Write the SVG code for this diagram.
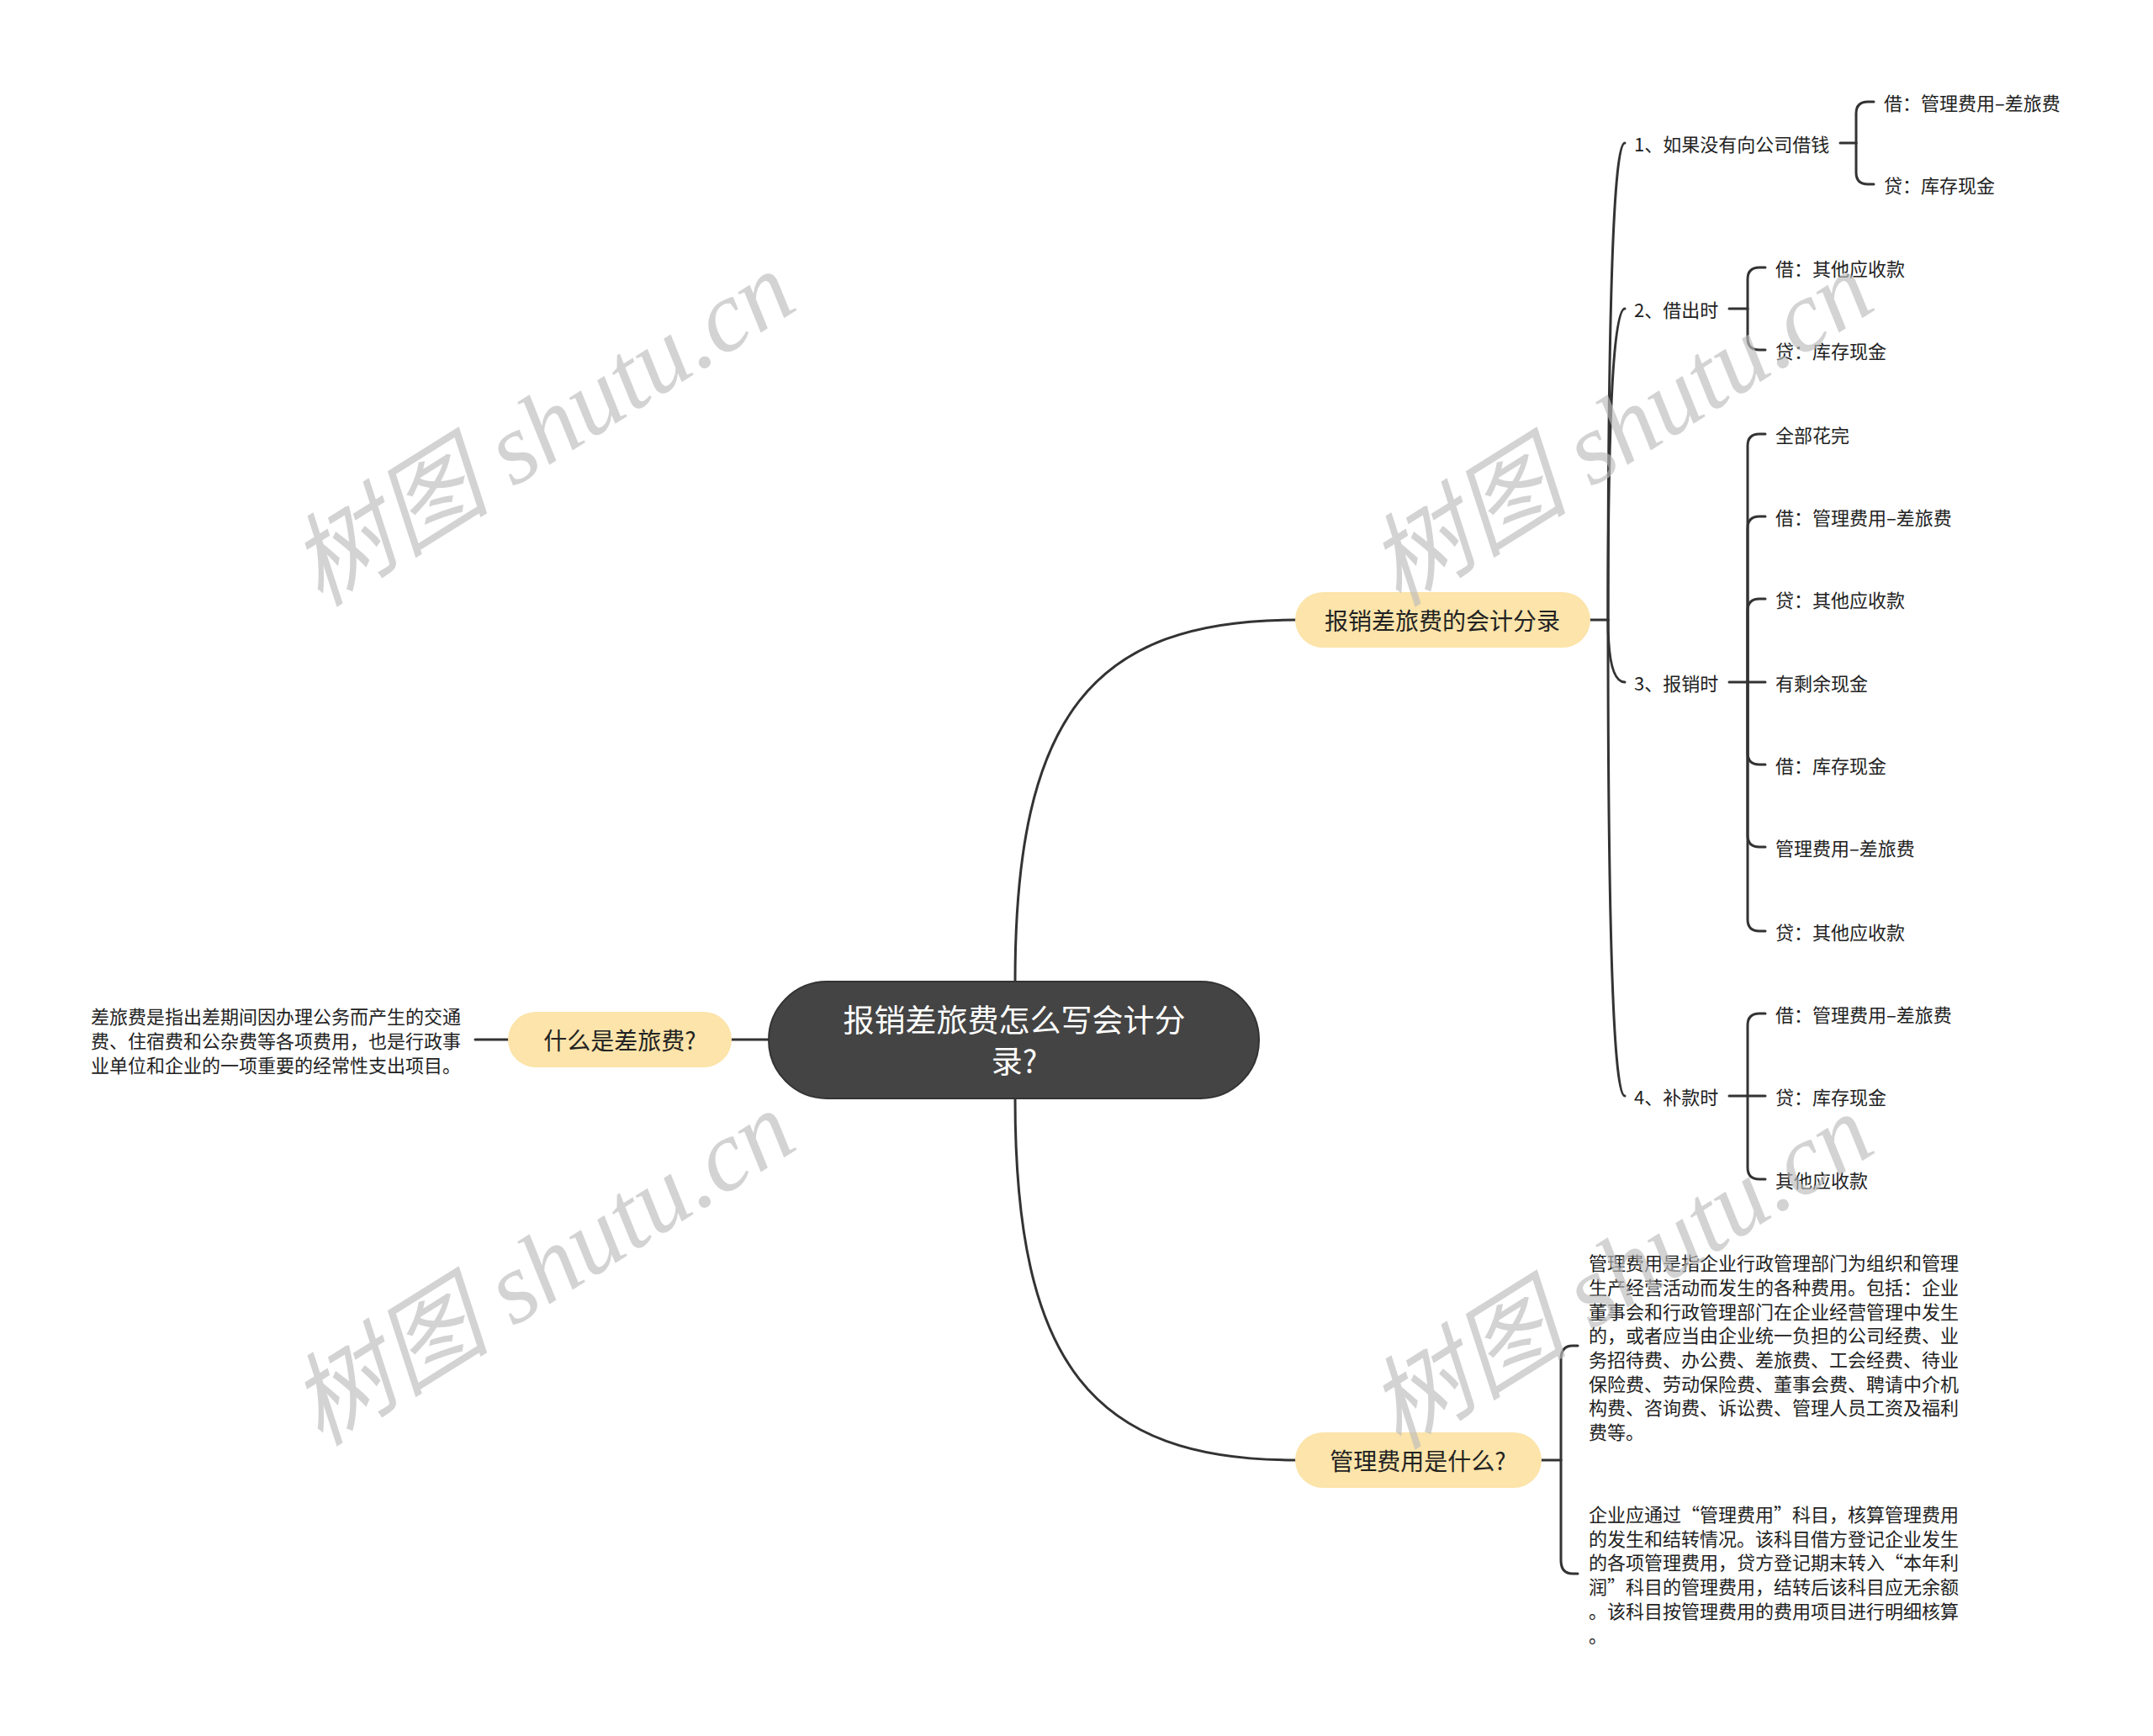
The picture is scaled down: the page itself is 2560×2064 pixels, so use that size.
<svg xmlns="http://www.w3.org/2000/svg" width="2560" height="2064" viewBox="0 0 2560 2064">
<style>
.ln{fill:none;stroke:#333;stroke-width:3;stroke-linecap:round}
.t{font-family:"Noto Sans CJK SC","Noto Sans",sans-serif;fill:#222;dominant-baseline:central}
.s{font-size:22px}
.m{font-size:28px;text-anchor:middle}
.c{font-size:37px;text-anchor:middle;fill:#fff}
.y{fill:#FCE4AA}
.wm{font-family:"Liberation Serif","Noto Sans CJK SC",serif;font-style:italic;font-size:120px;fill:#bdbdbd;opacity:0.65;text-anchor:middle;dominant-baseline:central}
</style>
<rect width="2560" height="2064" fill="#fff"/>
<g id="connectors">
<path class="ln" d="M1207,1167 C1207,850 1300,737 1540,737"/>
<path class="ln" d="M1207,1306 C1207,1623 1300,1736 1540,1736"/>
<path class="ln" d="M914,1236 L870,1236"/>
<path class="ln" d="M604,1236 L565,1236"/>
<path class="ln" d="M1891,737 H1912"/>
<path class="ln" d="M1912,737 Q1912,170 1932,170"/>
<path class="ln" d="M1912,737 Q1912,367 1932,367"/>
<path class="ln" d="M1912,737 Q1912,811 1932,811"/>
<path class="ln" d="M1912,737 Q1912,1303 1932,1303"/>
<path class="ln" d="M2188,170 H2207"/>
<path class="ln" d="M2207,170 V135 Q2207,121 2221,121 H2228"/>
<path class="ln" d="M2207,170 V205 Q2207,219 2221,219 H2228"/>
<path class="ln" d="M2056,367 H2078"/>
<path class="ln" d="M2078,367 V332 Q2078,318 2092,318 H2099"/>
<path class="ln" d="M2078,367 V402 Q2078,416 2092,416 H2099"/>
<path class="ln" d="M2056,811 H2099"/>
<path class="ln" d="M2078,811 V530 Q2078,516 2092,516 H2099"/>
<path class="ln" d="M2078,811 V628 Q2078,614 2092,614 H2099"/>
<path class="ln" d="M2078,811 V726 Q2078,712 2092,712 H2099"/>
<path class="ln" d="M2078,811 V895 Q2078,909 2092,909 H2099"/>
<path class="ln" d="M2078,811 V993 Q2078,1007 2092,1007 H2099"/>
<path class="ln" d="M2078,811 V1093 Q2078,1107 2092,1107 H2099"/>
<path class="ln" d="M2056,1303 H2099"/>
<path class="ln" d="M2078,1303 V1219 Q2078,1205 2092,1205 H2099"/>
<path class="ln" d="M2078,1303 V1388 Q2078,1402 2092,1402 H2099"/>
<path class="ln" d="M1833,1736 H1856"/>
<path class="ln" d="M1856,1736 V1616 Q1856,1600 1870,1600 H1876"/>
<path class="ln" d="M1856,1736 V1855 Q1856,1871 1870,1871 H1876"/>
</g>
<g id="root">
<rect x="914" y="1167" width="583" height="139" rx="69.5" fill="#444" stroke="#333" stroke-width="2"/>
<text class="t c"><tspan x="1206" y="1211">报销差旅费怎么写会计分</tspan><tspan x="1206" y="1260">录?</tspan></text>
</g>
<g id="n-entries">
<rect class="y" x="1540" y="704" width="351" height="66" rx="33"/>
<text class="t m" x="1715" y="737">报销差旅费的会计分录</text>
</g>
<g id="n-what">
<rect class="y" x="604" y="1203" width="266" height="66" rx="33"/>
<text class="t m" x="737" y="1236">什么是差旅费?</text>
</g>
<g id="n-mgmt">
<rect class="y" x="1540" y="1703" width="293" height="66" rx="33"/>
<text class="t m" x="1686" y="1736">管理费用是什么?</text>
</g>
<g id="n-what-desc">
<text class="t s"><tspan x="108" y="1207">差旅费是指出差期间因办理公务而产生的交通</tspan><tspan x="108" y="1236">费、住宿费和公杂费等各项费用，也是行政事</tspan><tspan x="108" y="1265">业单位和企业的一项重要的经常性支出项目。</tspan></text>
</g>
<g id="n-1"><text class="t s" x="1943" y="170">1、如果没有向公司借钱</text></g>
<g id="n-1a"><text class="t s" x="2240" y="121">借：管理费用–差旅费</text></g>
<g id="n-1b"><text class="t s" x="2240" y="219">贷：库存现金</text></g>
<g id="n-2"><text class="t s" x="1943" y="367">2、借出时</text></g>
<g id="n-2a"><text class="t s" x="2111" y="318">借：其他应收款</text></g>
<g id="n-2b"><text class="t s" x="2111" y="416">贷：库存现金</text></g>
<g id="n-3"><text class="t s" x="1943" y="811">3、报销时</text></g>
<g id="n-3a"><text class="t s" x="2111" y="516">全部花完</text></g>
<g id="n-3b"><text class="t s" x="2111" y="614">借：管理费用–差旅费</text></g>
<g id="n-3c"><text class="t s" x="2111" y="712">贷：其他应收款</text></g>
<g id="n-3d"><text class="t s" x="2111" y="811">有剩余现金</text></g>
<g id="n-3e"><text class="t s" x="2111" y="909">借：库存现金</text></g>
<g id="n-3f"><text class="t s" x="2111" y="1007">管理费用–差旅费</text></g>
<g id="n-3g"><text class="t s" x="2111" y="1107">贷：其他应收款</text></g>
<g id="n-4"><text class="t s" x="1943" y="1303">4、补款时</text></g>
<g id="n-4a"><text class="t s" x="2111" y="1205">借：管理费用–差旅费</text></g>
<g id="n-4b"><text class="t s" x="2111" y="1303">贷：库存现金</text></g>
<g id="n-4c"><text class="t s" x="2111" y="1402">其他应收款</text></g>
<g id="n-mgmt-1">
<text class="t s"><tspan x="1889" y="1500">管理费用是指企业行政管理部门为组织和管理</tspan><tspan x="1889" y="1529">生产经营活动而发生的各种费用。包括：企业</tspan><tspan x="1889" y="1558">董事会和行政管理部门在企业经营管理中发生</tspan><tspan x="1889" y="1586">的，或者应当由企业统一负担的公司经费、业</tspan><tspan x="1889" y="1615">务招待费、办公费、差旅费、工会经费、待业</tspan><tspan x="1889" y="1644">保险费、劳动保险费、董事会费、聘请中介机</tspan><tspan x="1889" y="1672">构费、咨询费、诉讼费、管理人员工资及福利</tspan><tspan x="1889" y="1701">费等。</tspan></text>
</g>
<g id="n-mgmt-2">
<text class="t s"><tspan x="1889" y="1799">企业应通过“管理费用”科目，核算管理费用</tspan><tspan x="1889" y="1828">的发生和结转情况。该科目借方登记企业发生</tspan><tspan x="1889" y="1856">的各项管理费用，贷方登记期末转入“本年利</tspan><tspan x="1889" y="1885">润”科目的管理费用，结转后该科目应无余额</tspan><tspan x="1889" y="1914">。该科目按管理费用的费用项目进行明细核算</tspan><tspan x="1889" y="1943">。</tspan></text>
</g>
<g id="watermarks">
<text class="wm" transform="translate(645,510) rotate(-32)">树图 shutu.cn</text>
<text class="wm" transform="translate(1927,510) rotate(-32)">树图 shutu.cn</text>
<text class="wm" transform="translate(645,1508) rotate(-32)">树图 shutu.cn</text>
<text class="wm" transform="translate(1927,1512) rotate(-32)">树图 shutu.cn</text>
</g>
</svg>
